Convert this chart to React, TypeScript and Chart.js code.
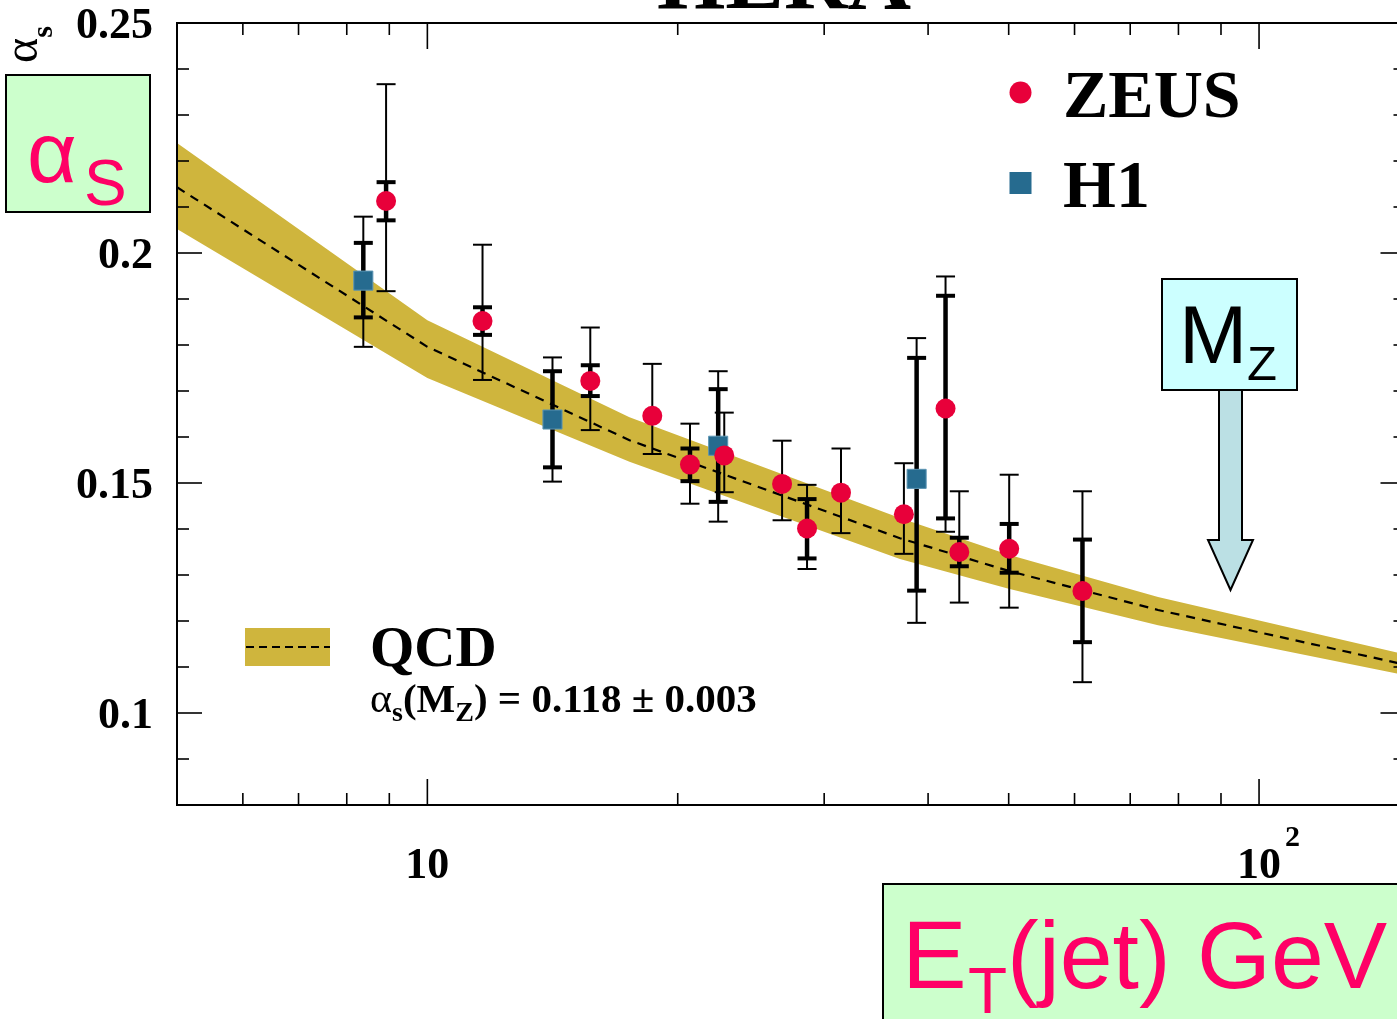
import { useEffect, useRef } from "react";
import { Chart, registerables } from "chart.js";

Chart.register(...registerables);

// ---------------- data ----------------
const zeusX = [8.92, 11.65, 15.7, 18.64, 20.69, 22.75, 26.7, 28.61, 31.43, 37.41, 41.98, 43.61, 50.07, 61.33];
const zeusY = [0.2113, 0.1852, 0.1722, 0.1646, 0.154, 0.156, 0.1498, 0.1401, 0.1479, 0.1432, 0.1662, 0.135, 0.1357, 0.1265];
const zeusTotHi = [0.2367, 0.2018, 0.1838, 0.1759, 0.1629, 0.1653, 0.1592, 0.1496, 0.1575, 0.1543, 0.1949, 0.1482, 0.1518, 0.1482];
const zeusTotLo = [0.1917, 0.1724, 0.1615, 0.1563, 0.1455, 0.148, 0.1419, 0.1313, 0.1391, 0.1346, 0.1394, 0.124, 0.1229, 0.1067];
const zeusStatHi = [0.2154, 0.1882, 0.1756, null, 0.1575, null, null, 0.1465, null, null, 0.1907, 0.1381, 0.1411, 0.1377];
const zeusStatLo = [0.2071, 0.1822, 0.1689, null, 0.1504, null, null, 0.1336, null, null, 0.1423, 0.1319, 0.1305, 0.1154];

const h1X = [8.375, 14.14, 22.37, 38.75];
const h1Y = [0.194, 0.1638, 0.1581, 0.1509];
const h1TotHi = [0.2079, 0.1773, 0.1743, 0.1815];
const h1TotLo = [0.1796, 0.1503, 0.1416, 0.1196];
const h1StatHi = [0.2022, 0.1743, 0.1704, 0.1772];
const h1StatLo = [0.186, 0.1534, 0.1459, 0.1266];

const qcdX = [5, 10, 17.5, 37, 50, 75.6, 150];
const qcdHi = [0.2239, 0.1854, 0.1643, 0.1424, 0.1344, 0.1252, 0.1127];
const qcdLo = [0.2052, 0.1728, 0.1546, 0.1335, 0.127, 0.1191, 0.1082];
const qcdMid = [0.2143, 0.1796, 0.1593, 0.138, 0.1309, 0.1224, 0.1105];

const yMajorTicks = [0.1, 0.15, 0.2, 0.25];
const yTickLabels = ["0.1", "0.15", "0.2", "0.25"];
const yMinorTicks = [0.09, 0.11, 0.12, 0.13, 0.14, 0.16, 0.17, 0.18, 0.19, 0.21, 0.22, 0.23, 0.24];
const xMajorTicks = [10, 100];
const xTickBase = ["10", "10"];
const xTickExp = ["", "2"];
const xMinorTicks = [6, 7, 8, 9, 20, 30, 40, 50, 60, 70, 80, 90];

// ---------------- styles ----------------
const RED = "#E8003A";
const BLUE = "#266B8F";
const BAND = "#CFB53D";
const PINK = "#FF0066";
const SERIF = "'Liberation Serif', 'Times New Roman', serif";
const SANS = "'Liberation Sans', Arial, sans-serif";

type Run = { text: string; font: string; dy?: number };

function drawRuns(ctx: CanvasRenderingContext2D, x: number, y: number, runs: Run[], color = "#000") {
  let cx = x;
  ctx.fillStyle = color;
  ctx.textAlign = "left";
  ctx.textBaseline = "alphabetic";
  for (const r of runs) {
    ctx.font = r.font;
    ctx.fillText(r.text, cx, y + (r.dy || 0));
    cx += ctx.measureText(r.text).width;
  }
  return cx;
}

function line(ctx: CanvasRenderingContext2D, x1: number, y1: number, x2: number, y2: number) {
  ctx.beginPath();
  ctx.moveTo(x1, y1);
  ctx.lineTo(x2, y2);
  ctx.stroke();
}

function drawBars(
  chart: any,
  xv: number[],
  hi: number[],
  lo: number[],
  shi: (number | null)[],
  slo: (number | null)[]
) {
  const ctx: CanvasRenderingContext2D = chart.ctx;
  const xs = chart.scales.x;
  const ys = chart.scales.y;
  const half = 9.5;
  ctx.save();
  ctx.strokeStyle = "#000";
  ctx.lineCap = "butt";
  for (let i = 0; i < xv.length; i++) {
    const px = xs.getPixelForValue(xv[i]);
    const yt = ys.getPixelForValue(hi[i]);
    const yb = ys.getPixelForValue(lo[i]);
    ctx.lineWidth = 2;
    line(ctx, px, yt, px, yb);
    line(ctx, px - half, yt, px + half, yt);
    line(ctx, px - half, yb, px + half, yb);
    const sh = shi[i];
    const sl = slo[i];
    if (sh != null && sl != null) {
      const a = ys.getPixelForValue(sh);
      const b = ys.getPixelForValue(sl);
      ctx.lineWidth = 4.5;
      line(ctx, px, a, px, b);
      ctx.lineWidth = 4;
      line(ctx, px - half, a, px + half, a);
      line(ctx, px - half, b, px + half, b);
    }
  }
  ctx.restore();
}

const decorPlugin = {
  id: "decor",
  beforeDatasetDraw(chart: any, args: any) {
    if (args.index !== 1) return;
    drawBars(chart, h1X, h1TotHi, h1TotLo, h1StatHi, h1StatLo);
    drawBars(chart, zeusX, zeusTotHi, zeusTotLo, zeusStatHi, zeusStatLo);
  },
  afterDatasetsDraw(chart: any) {
    const ctx: CanvasRenderingContext2D = chart.ctx;
    const { left, right, top, bottom } = chart.chartArea;
    const xs = chart.scales.x;
    const ys = chart.scales.y;
    ctx.save();
    ctx.strokeStyle = "#000";
    ctx.lineWidth = 2;
    ctx.strokeRect(left, top, right - left, bottom - top);
    ctx.lineWidth = 1.6;
    for (const v of yMajorTicks) {
      const py = ys.getPixelForValue(v);
      line(ctx, left, py, left + 25, py);
      line(ctx, right, py, right - 25, py);
    }
    for (const v of yMinorTicks) {
      const py = ys.getPixelForValue(v);
      line(ctx, left, py, left + 12, py);
      line(ctx, right, py, right - 12, py);
    }
    for (const v of xMajorTicks) {
      const px = xs.getPixelForValue(v);
      line(ctx, px, bottom, px, bottom - 26);
      line(ctx, px, top, px, top + 26);
    }
    for (const v of xMinorTicks) {
      const px = xs.getPixelForValue(v);
      line(ctx, px, bottom, px, bottom - 12);
      line(ctx, px, top, px, top + 12);
    }
    ctx.restore();
  },
  afterDraw(chart: any) {
    const ctx: CanvasRenderingContext2D = chart.ctx;
    const xs = chart.scales.x;
    const ys = chart.scales.y;
    const { left } = chart.chartArea;
    ctx.save();

    // y tick labels
    ctx.font = `bold 44px ${SERIF}`;
    ctx.fillStyle = "#000";
    ctx.textAlign = "right";
    ctx.textBaseline = "alphabetic";
    for (let i = 0; i < yMajorTicks.length; i++) {
      const py = ys.getPixelForValue(yMajorTicks[i]);
      ctx.fillText(yTickLabels[i], left - 24, py + 15);
    }

    // x tick labels (10, 10^2)
    for (let i = 0; i < xMajorTicks.length; i++) {
      const px = xs.getPixelForValue(xMajorTicks[i]);
      ctx.font = `bold 44px ${SERIF}`;
      ctx.fillStyle = "#000";
      ctx.textAlign = "center";
      ctx.textBaseline = "alphabetic";
      ctx.fillText(xTickBase[i], px, 878);
      if (xTickExp[i]) {
        const w = ctx.measureText(xTickBase[i]).width;
        ctx.font = `bold 30px ${SERIF}`;
        ctx.textAlign = "left";
        ctx.fillText(xTickExp[i], px + w / 2 + 4, 846);
      }
    }

    // title (mostly cut off at the top)
    ctx.font = `bold 88px ${SERIF}`;
    ctx.textAlign = "center";
    ctx.fillStyle = "#000";
    ctx.fillText("HERA", 784, 8);

    // rotated axis title alpha_s
    ctx.save();
    ctx.translate(37, 63);
    ctx.rotate(-Math.PI / 2);
    drawRuns(ctx, 0, 0, [
      { text: "α", font: `48px ${SERIF}` },
      { text: "s", font: `bold 30px ${SERIF}`, dy: 15 },
    ]);
    ctx.restore();

    // alpha_S green box
    ctx.fillStyle = "#CCFFCC";
    ctx.fillRect(6, 75, 144, 137);
    ctx.strokeStyle = "#000";
    ctx.lineWidth = 2;
    ctx.strokeRect(6, 75, 144, 137);
    drawRuns(ctx, 27, 182, [{ text: "α", font: `86px ${SANS}` }], PINK);
    drawRuns(ctx, 84, 205, [{ text: "S", font: `64px ${SANS}` }], PINK);

    // legend ZEUS / H1
    ctx.fillStyle = RED;
    ctx.beginPath();
    ctx.arc(1020.5, 92.5, 11, 0, Math.PI * 2);
    ctx.fill();
    ctx.fillStyle = BLUE;
    ctx.fillRect(1009.5, 172, 22, 22);
    drawRuns(ctx, 1063, 117, [{ text: "ZEUS", font: `bold 68px ${SERIF}` }]);
    drawRuns(ctx, 1063, 207, [{ text: "H1", font: `bold 68px ${SERIF}` }]);

    // QCD legend
    ctx.fillStyle = BAND;
    ctx.fillRect(245, 628, 85, 38);
    ctx.strokeStyle = "#000";
    ctx.lineWidth = 2;
    ctx.setLineDash([8, 5]);
    line(ctx, 246, 647, 330, 647);
    ctx.setLineDash([]);
    drawRuns(ctx, 370, 666, [{ text: "QCD", font: `bold 57px ${SERIF}` }]);
    drawRuns(ctx, 370, 712, [
      { text: "α", font: `42px ${SERIF}` },
      { text: "s", font: `bold 28px ${SERIF}`, dy: 9 },
      { text: "(M", font: `bold 41px ${SERIF}` },
      { text: "Z", font: `bold 28px ${SERIF}`, dy: 9 },
      { text: ") = 0.118 ± 0.003", font: `bold 41px ${SERIF}` },
    ]);

    // M_Z box and arrow
    ctx.fillStyle = "#BBE0E4";
    ctx.strokeStyle = "#000";
    ctx.lineWidth = 2;
    ctx.beginPath();
    ctx.moveTo(1219, 390);
    ctx.lineTo(1242, 390);
    ctx.lineTo(1242, 540);
    ctx.lineTo(1253, 540);
    ctx.lineTo(1230.5, 590);
    ctx.lineTo(1208, 540);
    ctx.lineTo(1219, 540);
    ctx.closePath();
    ctx.fill();
    ctx.stroke();
    ctx.fillStyle = "#CCFFFF";
    ctx.fillRect(1162, 279, 135, 111);
    ctx.strokeRect(1162, 279, 135, 111);
    drawRuns(ctx, 1179, 363, [{ text: "M", font: `82px ${SANS}` }]);
    drawRuns(ctx, 1247, 380, [{ text: "Z", font: `49px ${SANS}` }]);

    // E_T(jet) GeV box
    ctx.fillStyle = "#CCFFCC";
    ctx.fillRect(883, 884, 540, 160);
    ctx.strokeStyle = "#000";
    ctx.lineWidth = 2;
    ctx.strokeRect(883, 884, 540, 160);
    drawRuns(ctx, 902, 988, [{ text: "E", font: `97px ${SANS}` }], PINK);
    drawRuns(ctx, 968, 1013, [{ text: "T", font: `64px ${SANS}` }], PINK);
    drawRuns(ctx, 1007, 988, [{ text: "(jet) GeV", font: `95px ${SANS}` }], PINK);

    ctx.restore();
  },
};

export default function App() {
  const ref = useRef<HTMLCanvasElement>(null);

  useEffect(() => {
    const canvas = ref.current;
    if (!canvas) return;
    const pts = (xs: number[], ys: number[]) => xs.map((x, i) => ({ x, y: ys[i] }));
    const chart = new Chart(canvas, {
      type: "line",
      data: {
        datasets: [
          {
            label: "ZEUS",
            data: pts(zeusX, zeusY),
            showLine: false,
            pointStyle: "circle",
            pointRadius: 10,
            pointBackgroundColor: RED,
            pointBorderColor: RED,
            pointBorderWidth: 0,
          },
          {
            label: "H1",
            data: pts(h1X, h1Y),
            showLine: false,
            pointStyle: "rect",
            pointRadius: 13.5,
            pointBackgroundColor: BLUE,
            pointBorderColor: "#5C95B4",
            pointBorderWidth: 1,
          },
          {
            label: "QCD central",
            data: pts(qcdX, qcdMid),
            borderColor: "#000",
            borderWidth: 2.2,
            borderDash: [9, 7],
            pointRadius: 0,
            fill: false,
          },
          {
            label: "QCD upper",
            data: pts(qcdX, qcdHi),
            borderWidth: 0,
            borderColor: BAND,
            pointRadius: 0,
            fill: false,
          },
          {
            label: "QCD lower",
            data: pts(qcdX, qcdLo),
            borderWidth: 0,
            borderColor: BAND,
            backgroundColor: BAND,
            pointRadius: 0,
            fill: "-1",
          },
        ],
      },
      options: {
        animation: false,
        responsive: false,
        devicePixelRatio: 1,
        layout: { padding: { top: 23, right: 12, left: 0, bottom: 0 } },
        plugins: { legend: { display: false }, tooltip: { enabled: false } },
        scales: {
          x: {
            type: "logarithmic",
            min: 5,
            max: 150,
            afterBuildTicks: (s: any) => {
              s.ticks = xMajorTicks.map((v) => ({ value: v }));
            },
            afterFit: (s: any) => {
              s.height = 214;
            },
            ticks: { display: false },
            grid: { display: false, drawTicks: false },
            border: { display: false },
          },
          y: {
            type: "linear",
            min: 0.08,
            max: 0.25,
            afterBuildTicks: (s: any) => {
              s.ticks = yMajorTicks.map((v) => ({ value: v }));
            },
            afterFit: (s: any) => {
              s.width = 177;
              s.paddingTop = 0;
              s.paddingBottom = 0;
            },
            ticks: { display: false },
            grid: { display: false, drawTicks: false },
            border: { display: false },
          },
        },
      },
      plugins: [decorPlugin],
    } as any);
    return () => chart.destroy();
  }, []);

  return (
    <div
      style={{
        position: "fixed",
        left: 0,
        top: 0,
        width: 1397,
        height: 1019,
        overflow: "hidden",
        background: "#fff",
      }}
    >
      <canvas ref={ref} width={1420} height={1019} style={{ display: "block", width: 1420, height: 1019 }} />
    </div>
  );
}
